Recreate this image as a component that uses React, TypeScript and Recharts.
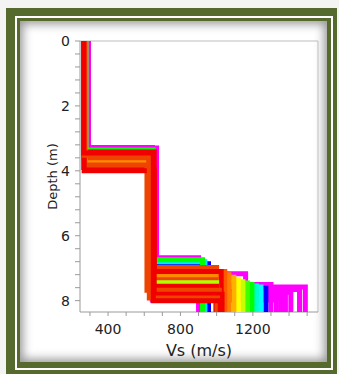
import { ScatterChart, Scatter, XAxis, YAxis, ReferenceLine } from "recharts"

// Vs profiles, back to front (magenta drawn first, red best-fit models on top)
const vsLayer1 = [290, 290, 290, 290, 290, 290, 290, 290, 276, 276, 276, 276, 276, 276, 276, 276, 276, 276, 276, 276, 276, 275, 272, 270, 268, 272, 266, 272, 268, 270, 266]
const depthStep1 = [3.3, 3.3, 3.3, 3.3, 3.3, 3.3, 3.3, 3.3, 3.5, 3.55, 3.5, 3.55, 3.6, 3.36, 3.6, 3.6, 3.65, 3.65, 3.7, 3.7, 3.75, 3.45, 3.72, 3.42, 3.6, 3.95, 3.9, 3.82, 4.0, 3.52, 3.45]
const vsLayer2 = [668, 645, 645, 645, 645, 645, 645, 645, 640, 640, 645, 640, 640, 650, 640, 640, 640, 640, 640, 640, 640, 620, 630, 655, 625, 635, 650, 615, 655, 628, 650]
const depthStep2 = [6.68, 7.17, 7.58, 7.66, 7.74, 7.82, 7.9, 7.98, 6.86, 7.62, 6.8, 7.58, 7.55, 6.74, 7.5, 7.46, 7.42, 7.36, 7.28, 7.2, 7.1, 6.98, 7.26, 7.1, 7.36, 7.45, 7.56, 7.68, 7.8, 7.92, 8.0]
const vsLayer3 = [900, 1160, 1490, 1458, 1410, 1380, 1355, 1330, 955, 1272, 935, 1245, 1220, 922, 1195, 1170, 1145, 1120, 1095, 1068, 1045, 1000, 1010, 1025, 995, 1000, 1000, 1015, 1030, 1005, 1020]
// only one model has an extra deep layer
const depthStep3: (number | null)[] = [null, 7.5, null, null, null, null, null, null, null, null, null, null, null, null, null, null, null, null, null, null, null, null, null, null, null, null, null, null, null, null, null]
const vsLayer4: (number | null)[] = [null, 1300, null, null, null, null, null, null, null, null, null, null, null, null, null, null, null, null, null, null, null, null, null, null, null, null, null, null, null, null, null]

const profileColors = [
  "#ff00ff", "#ff00ff", "#ff00ff", "#ff00ff", "#ff00ff", "#ff00ff", "#ff00ff", "#ff00ff",
  "#0000ff", "#0000ff", "#00e5ff", "#00ffff", "#00ffd0", "#00ff00", "#00ff00", "#40ff00",
  "#c8ff00", "#ffff00", "#ffb000", "#ff8000", "#ff5a00",
  "#ee4400", "#ff8c00", "#f00000", "#ee4400", "#b0ff00", "#f00000", "#ee4400", "#f00000", "#ee4400", "#f00000",
]

const maxDepth = 8.35
const depthTicks = [0, 0.4, 0.8, 1.2, 1.6, 2, 2.4, 2.8, 3.2, 3.6, 4, 4.4, 4.8, 5.2, 5.6, 6, 6.4, 6.8, 7.2, 7.6, 8]
const depthLabels = [0, 2, 4, 6, 8]
const vsTicks = [300, 400, 500, 600, 700, 800, 900, 1000, 1100, 1200, 1300, 1400, 1500]
const vsLabels = [400, 800, 1200]

const FRAME = "#566a2e"
const FONT = "DejaVu Sans"

function buildProfile(i: number) {
  const pts = [
    { vs: vsLayer1[i], depth: 0 },
    { vs: vsLayer1[i], depth: depthStep1[i] },
    { vs: vsLayer2[i], depth: depthStep1[i] },
    { vs: vsLayer2[i], depth: depthStep2[i] },
    { vs: vsLayer3[i], depth: depthStep2[i] },
  ]
  const d3 = depthStep3[i]
  const v4 = vsLayer4[i]
  if (d3 != null && v4 != null) {
    pts.push({ vs: vsLayer3[i], depth: d3 }, { vs: v4, depth: d3 }, { vs: v4, depth: maxDepth })
  } else {
    pts.push({ vs: vsLayer3[i], depth: maxDepth })
  }
  return pts
}

const profiles = vsLayer1.map((_, i) => buildProfile(i))

function DepthTick({ x, y, payload }: any) {
  if (!depthLabels.includes(payload.value)) return <g />
  return (
    <text x={x} y={y} dy="0.36em" textAnchor="end" fontSize={14} fontFamily={FONT} fill="#222">
      {payload.value}
    </text>
  )
}

function VsTick({ x, y, payload }: any) {
  if (!vsLabels.includes(payload.value)) return <g />
  return (
    <text x={x} y={y} dy="0.71em" textAnchor="middle" fontSize={14} fontFamily={FONT} fill="#222">
      {payload.value}
    </text>
  )
}

const depthLabel = (props: any) => {
  const vb = props.viewBox
  const cx = vb.x + 52
  const cy = vb.y + vb.height / 2
  return (
    <text x={cx} y={cy} dy="0.36em" textAnchor="middle" fontSize={13} fontFamily={FONT} fill="#222" transform={`rotate(-90 ${cx} ${cy})`}>
      Depth (m)
    </text>
  )
}

const vsLabel = (props: any) => {
  const vb = props.viewBox
  return (
    <text x={vb.x + vb.width / 2} y={vb.y + 38} dy="0.36em" textAnchor="middle" fontSize={16} fontFamily={FONT} fill="#222">
      Vs (m/s)
    </text>
  )
}

export default function App() {
  return (
    <div style={{ position: "absolute", left: 0, top: 0, width: 339, height: 374, background: "#f4f4f2", overflow: "hidden" }}>
      <div style={{ position: "absolute", left: 6, top: 8, width: 331, height: 366, background: FRAME }} />
      <div style={{ position: "absolute", left: 15, top: 16, width: 318, height: 354, background: "#ffffff" }} />
      <div style={{ position: "absolute", left: 17, top: 18, width: 314, height: 350, background: FRAME }} />
      <div
        style={{
          position: "absolute",
          left: 20,
          top: 21,
          width: 307,
          height: 341,
          background: "#ffffff",
          boxShadow: "inset 0 0 10px 3px rgba(70,70,70,0.55)",
        }}
      />
      <div style={{ position: "absolute", left: 0, top: 0 }}>
        <ScatterChart width={339} height={374} margin={{ top: 41, right: 21, bottom: 20, left: 0 }}>
          <XAxis
            type="number"
            dataKey="vs"
            domain={[245, 1560]}
            allowDataOverflow
            ticks={vsTicks}
            interval={0}
            tick={<VsTick />}
            tickSize={4}
            tickMargin={8}
            height={42}
            axisLine={{ stroke: "#9a9a9a" }}
            tickLine={{ stroke: "#9a9a9a" }}
            label={vsLabel}
          />
          <YAxis
            type="number"
            dataKey="depth"
            domain={[0, maxDepth]}
            reversed
            allowDataOverflow
            ticks={depthTicks}
            interval={0}
            tick={<DepthTick />}
            tickSize={5}
            tickMargin={5}
            width={80}
            axisLine={{ stroke: "#9a9a9a" }}
            tickLine={{ stroke: "#9a9a9a" }}
            label={depthLabel}
          />
          <ReferenceLine y={0} stroke="#bdbdbd" />
          <ReferenceLine x={1560} stroke="#bdbdbd" />
          {profiles.map((pts, i) => (
            <Scatter
              key={i}
              data={pts}
              fill={profileColors[i]}
              line={{ stroke: profileColors[i], strokeWidth: 5 }}
              lineType="joint"
              shape={() => <g />}
              isAnimationActive={false}
            />
          ))}
        </ScatterChart>
      </div>
    </div>
  )
}
